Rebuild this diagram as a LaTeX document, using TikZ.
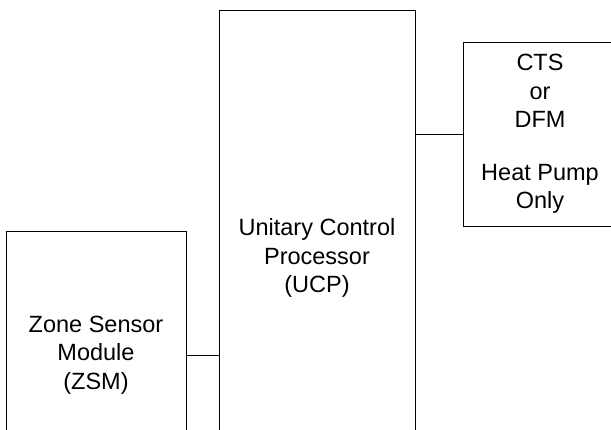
\documentclass[tikz,border=0pt]{standalone}
\usepackage{fontspec}
\setmainfont{Liberation Sans}
\usetikzlibrary{positioning}

\tikzset{
  unit/.style={draw=black, line width=0.9pt, align=center, inner sep=0pt,
               font=\fontsize{23.5}{28.5}\selectfont},
  link/.style={draw=black, line width=0.9pt}
}

\begin{document}
\begin{tikzpicture}[x=1pt,y=-1pt]
                \useasboundingbox (0,0) rectangle (611,430);
                \clip (0,0) rectangle (611,430);

                \node[unit, minimum width=196pt, minimum height=496pt] (ucp) at (317,258)
                     {Unitary Control\\Processor\\(UCP)};
                \node[unit, minimum width=180pt, minimum height=248pt] (zsm) at (96,355)
                     {Zone Sensor\\Module\\(ZSM)};
                \node[unit, minimum width=154pt, minimum height=184pt] (cts) at (540,134)
                     {CTS\\or\\DFM\\[24pt]Heat Pump\\Only};

                \path[link]
                (zsm.east) -- (zsm.east -| ucp.west)
                (ucp.east |- cts.west) -- (cts.west);
            \end{tikzpicture}
\end{document}
